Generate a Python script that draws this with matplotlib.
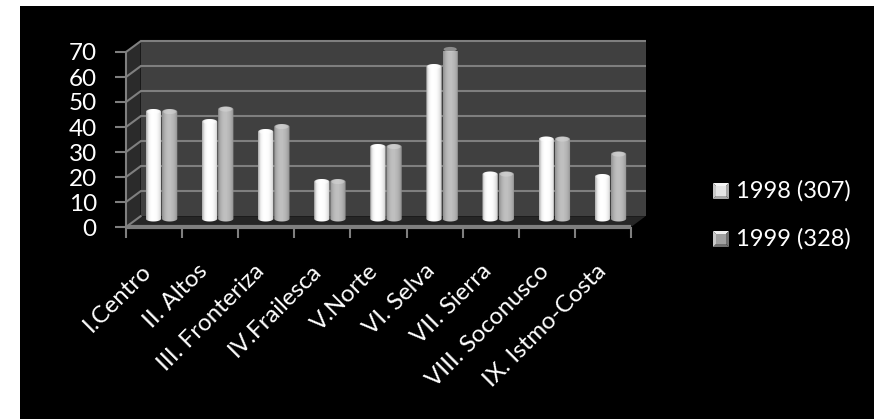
import numpy as np
import matplotlib
matplotlib.use('Agg')
import matplotlib.pyplot as plt
from matplotlib.patches import Rectangle, Polygon, Ellipse
from matplotlib.path import Path

plt.rcParams['font.family'] = ['Lato', 'DejaVu Sans']

# Datos
regiones = ['I.Centro', 'II. Altos', 'III. Fronteriza', 'IV.Frailesca', 'V.Norte',
            'VI. Selva', 'VII. Sierra', 'VIII. Soconusco', 'IX. Istmo-Costa']
casos_1998 = [45, 41, 37, 17, 31, 63, 20, 34, 19]
casos_1999 = [45, 46, 39, 17, 31, 70, 20, 34, 28]
nombres = ['1998 (307)', '1999 (328)']
yticks = [0, 10, 20, 30, 40, 50, 60, 70]

W, H = 874, 419
GRIS = '#7f7f7f'
# profundidad del falso 3D, en unidades de los ejes
dx, dy = 0.26, 4.3
base = 2.2


def fx(x):
    return x / W


def fy(y):
    return 1 - y / H


fig = plt.figure(figsize=(W / 100, H / 100), dpi=100, facecolor='white')
fig.patches.append(Rectangle((fx(20), 0), 1 - fx(20), fy(6), transform=fig.transFigure,
                             facecolor='black', edgecolor='none', zorder=-5))

ax = fig.add_axes([fx(126), fy(227), fx(631 - 126), fy(52) - fy(227)])
ax.patch.set_visible(False)
for s in ax.spines.values():
    s.set_visible(False)

# paredes y piso
ax.add_patch(Rectangle((dx, dy), 9, 70, facecolor='#404040', edgecolor='none', clip_on=False, zorder=1))
ax.add_patch(Polygon([(0, 0), (dx, dy), (dx, 70 + dy), (0, 70)], facecolor='#2b2b2b',
                     edgecolor='none', clip_on=False, zorder=1))
ax.add_patch(Polygon([(0, 0), (9, 0), (9 + dx, dy), (dx, dy)], facecolor='#262626',
                     edgecolor='none', clip_on=False, zorder=1))

for v in yticks:
    lw = 1.5
    if v > 0:
        ax.plot([dx, 9 + dx], [v + dy, v + dy], color=GRIS, lw=lw, clip_on=False, zorder=2,
                solid_capstyle='butt')
    ax.plot([0, dx], [v, v + dy], color=GRIS, lw=lw, clip_on=False, zorder=2)
ax.plot([0, 0], [0, 70], color=GRIS, lw=1.5, clip_on=False, zorder=3)
ax.plot([0, 9], [0, 0], color=GRIS, lw=3, clip_on=False, zorder=3, solid_capstyle='butt')


def cilindro(x0, ancho, alto, colores, tapa):
    # barra con gradiente horizontal y extremos elipticos
    x1 = x0 + ancho
    r = 1.1
    t = np.linspace(0, np.pi, 30)
    xm = (x0 + x1) / 2
    arriba = np.column_stack([xm - np.cos(t) * ancho / 2, alto - r + np.sin(t) * r])
    abajo = np.column_stack([xm + np.cos(t) * ancho / 2, base + r - np.sin(t) * r])
    pts = np.vstack([arriba, abajo, arriba[:1]])
    grad = np.interp(np.linspace(0, 1, 40), np.linspace(0, 1, len(colores)), colores)
    im = ax.imshow(grad[np.newaxis, :], cmap='gray', vmin=0, vmax=255, aspect='auto',
                   extent=(x0, x1, base - 1, alto + 1), zorder=4, interpolation='bilinear')
    im.set_clip_path(Path(pts), ax.transData)
    im.set_clip_box(None)
    ax.add_patch(Ellipse((xm, alto - r), ancho * 0.86, r * 1.7, facecolor=tapa, edgecolor='none',
                         alpha=0.5, clip_on=False, zorder=5))


ancho = 0.272
for i in range(len(regiones)):
    c = i + 0.5 + dx / 2
    cilindro(c - ancho - 0.005, ancho, casos_1998[i] + base,
             [175, 240, 255, 255, 252, 235, 200], '#ffffff')
    cilindro(c + 0.012, ancho, casos_1999[i] + base,
             [145, 175, 190, 192, 185, 170, 140], '#d8d8d8')

ax.set_xlim(0, 9)
ax.set_ylim(0, 70)

ax.set_yticks(yticks)
ax.tick_params(axis='y', length=8, width=1.5, color=GRIS, labelcolor='white', labelsize=17.5, pad=13)
ax.set_xticks(range(10))
ax.set_xticklabels([])
# las etiquetas van un poco mas separadas que las marcas
ax.set_xticks(np.arange(9) * 1.0134 + 0.25, minor=True)
ax.set_xticklabels(regiones, minor=True, rotation=45, ha='right', rotation_mode='anchor',
                   color='white', fontsize=17.3)
ax.tick_params(axis='x', which='major', length=8, width=1.5, color=GRIS)
ax.tick_params(axis='x', which='minor', length=0, pad=24)

# leyenda
for y, nombre, cen, luz, osc in [(183, nombres[0], '#e4e4e4', '#f4f4f4', '#a8a8a8'),
                                 (231, nombres[1], '#a0a0a0', '#f0f0f0', '#707070')]:
    x, s, b = 713, 16, 3
    esq = [(x, y), (x + s, y), (x + s, y + s), (x, y + s)]
    inn = [(x + b, y + b), (x + s - b, y + b), (x + s - b, y + s - b), (x + b, y + s - b)]
    tonos = [luz, osc, osc, '#c8c8c8']
    for k in range(4):
        q = [esq[k], esq[(k + 1) % 4], inn[(k + 1) % 4], inn[k]]
        fig.patches.append(Polygon([(fx(a), fy(c)) for a, c in q], transform=fig.transFigure,
                                   facecolor=tonos[k], edgecolor='none'))
    fig.patches.append(Polygon([(fx(a), fy(c)) for a, c in inn], transform=fig.transFigure,
                               facecolor=cen, edgecolor='none'))
    fig.text(fx(736), fy(y + s / 2), nombre, color='white', fontsize=17, va='center', ha='left')

fig.savefig('out.png', dpi=100, facecolor='white')
